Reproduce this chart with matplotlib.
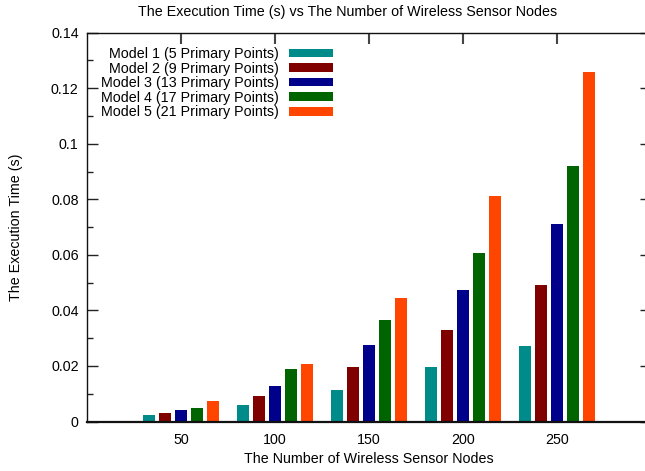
import matplotlib
matplotlib.use("Agg")
import matplotlib.pyplot as plt
import matplotlib.ticker as mticker
from matplotlib.patches import Patch
import numpy as np

# data
nodes = [50, 100, 150, 200, 250]
model1 = [0.0023, 0.0059, 0.0113, 0.0196, 0.0272]
model2 = [0.0031, 0.0092, 0.0196, 0.0330, 0.0492]
model3 = [0.0041, 0.0128, 0.0275, 0.0474, 0.0711]
model4 = [0.0050, 0.0189, 0.0365, 0.0607, 0.0920]
model5 = [0.0074, 0.0207, 0.0445, 0.0812, 0.1259]

labels = ["Model 1 (5 Primary Points)", "Model 2 (9 Primary Points)",
          "Model 3 (13 Primary Points)", "Model 4 (17 Primary Points)",
          "Model 5 (21 Primary Points)"]
colors = ["#008B8B", "#800000", "#00008B", "#006400", "#FF4500"]

plt.rcParams["font.family"] = ["Liberation Sans", "DejaVu Sans"]
fs = 10.3

fig = plt.figure(figsize=(6.45, 4.71), dpi=100)
W, H = 645.0, 471.0
# gnuplot-like frame, right border runs off the image
ax = fig.add_axes([87 / W, 1 - 421.5 / H, (651 - 87) / W, (421.5 - 32.7) / H])

series = [model1, model2, model3, model4, model5]
step = 8.5
width = 6.4
x = np.array(nodes, dtype=float)
for k, (vals, c) in enumerate(zip(series, colors)):
    ax.bar(x + (k - 2) * step, vals, width=width, color=c, linewidth=0)

ax.set_xlim(0, 300)
ax.set_ylim(0, 0.14)
ax.set_xticks(nodes)
ax.set_yticks(np.arange(0, 0.1401, 0.02))
ax.yaxis.set_minor_locator(mticker.MultipleLocator(0.01))
ax.yaxis.set_major_formatter(mticker.FuncFormatter(lambda v, p: "%g" % round(v, 4)))

ax.tick_params(axis="y", which="major", direction="in", length=8, width=1,
               labelsize=fs, pad=6, right=True, color="#222222")
ax.tick_params(axis="y", which="minor", direction="in", length=4, width=1,
               right=True, color="#222222")
ax.tick_params(axis="x", which="major", direction="in", length=8, width=1.5,
               bottom=False, top=True, labelsize=fs, pad=8, color="#444444")

for s in ["left", "top"]:
    ax.spines[s].set_linewidth(1.0)
    ax.spines[s].set_color("#111111")
ax.spines["bottom"].set_linewidth(1.6)
ax.spines["bottom"].set_color("#111111")

ax.set_xlabel("The Number of Wireless Sensor Nodes", fontsize=fs, labelpad=4)
ax.set_ylabel("The Execution Time (s)", fontsize=fs, labelpad=20)
fig.text(348 / W, 1 - 12 / H, "The Execution Time (s) vs The Number of Wireless Sensor Nodes",
         ha="center", va="center", fontsize=fs)

handles = [Patch(facecolor=c, edgecolor="none") for c in colors]
ax.legend(handles, labels, loc="upper right", bbox_to_anchor=(333 / W, 1 - 47 / H),
          bbox_transform=fig.transFigure, frameon=False, markerfirst=False,
          fontsize=fs, handlelength=3.1, handleheight=0.55, handletextpad=0.65,
          labelspacing=0.04, borderpad=0, borderaxespad=0)

fig.savefig("out.png", dpi=100)
